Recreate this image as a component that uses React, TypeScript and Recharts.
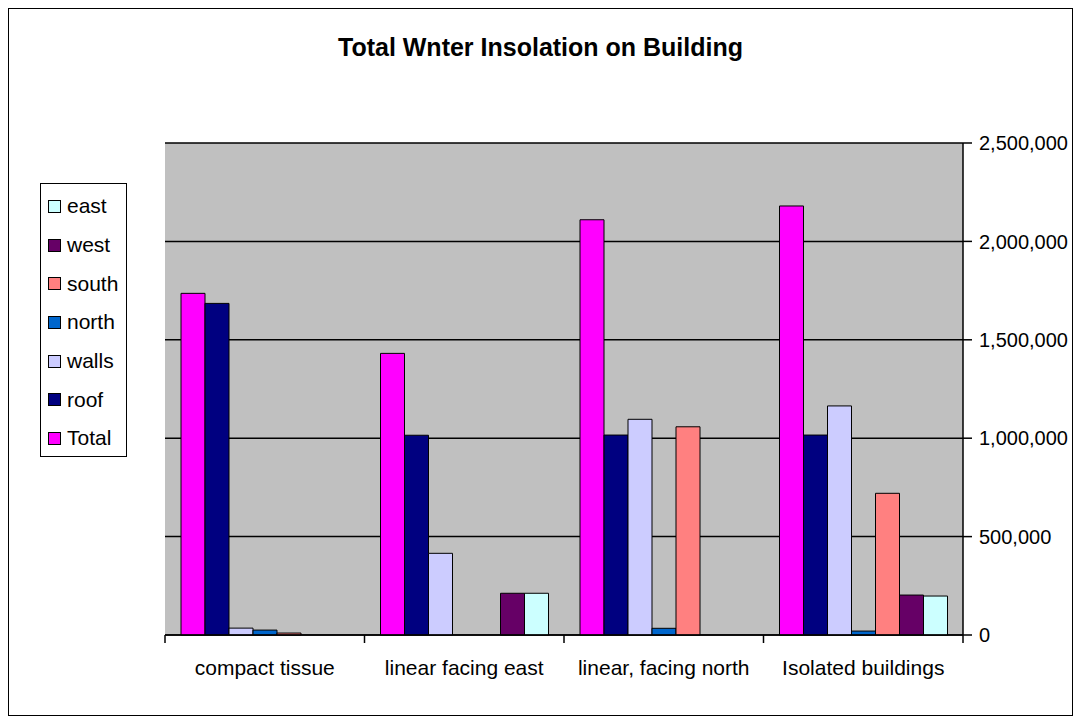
import { Bar, BarChart, CartesianGrid, XAxis, YAxis } from "recharts";

const categories = [
  "compact tissue",
  "linear facing east",
  "linear, facing north",
  "Isolated buildings",
];
const totalValues = [1736000, 1431000, 2110000, 2180000];
const roofValues = [1685000, 1015000, 1016000, 1016000];
const wallsValues = [35000, 415000, 1096000, 1164000];
const northValues = [25000, 0, 34000, 20000];
const southValues = [10000, 0, 1058000, 720000];
const westValues = [0, 212000, 0, 203000];
const eastValues = [0, 212000, 0, 198000];
const yTicks = [0, 500000, 1000000, 1500000, 2000000, 2500000];

const series = [
  { key: "Total", values: totalValues, color: "#FF00FF" },
  { key: "roof", values: roofValues, color: "#000080" },
  { key: "walls", values: wallsValues, color: "#CCCCFF" },
  { key: "north", values: northValues, color: "#0066CC" },
  { key: "south", values: southValues, color: "#FF8080" },
  { key: "west", values: westValues, color: "#660066" },
  { key: "east", values: eastValues, color: "#CCFFFF" },
];

const data = categories.map((name, i) => {
  const row: { [k: string]: number | string } = { name };
  series.forEach((s) => (row[s.key] = s.values[i]));
  return row;
});

const FONT = '"Liberation Sans", Arial, sans-serif';

const CategoryTick = (props: any) => {
  const { x, y, payload, index } = props;
  const off = payload.offset ?? 0;
  return (
    <g>
      <line x1={x - off} y1={y} x2={x - off} y2={y + 8} stroke="#000" strokeWidth={1.5} />
      {index === categories.length - 1 && (
        <line x1={x + off} y1={y} x2={x + off} y2={y + 8} stroke="#000" strokeWidth={1.5} />
      )}
      <text x={x} y={y + 40} textAnchor="middle" fill="#000" fontSize={21} fontFamily={FONT}>
        {payload.value}
      </text>
    </g>
  );
};

// legend lists the series in reverse order, like the original spreadsheet chart
const LegendBox = () => (
  <div
    style={{
      position: "absolute",
      left: 32,
      top: 175,
      width: 87,
      height: 274,
      border: "1px solid #000",
      background: "#fff",
      paddingTop: 3,
      boxSizing: "border-box",
      fontFamily: FONT,
      fontSize: 21,
    }}
  >
    {[...series].reverse().map((s) => (
      <div key={s.key} style={{ display: "flex", alignItems: "center", height: 38.7, paddingLeft: 7 }}>
        <span
          style={{
            width: 11,
            height: 11,
            background: s.color,
            border: "1px solid #000",
            marginRight: 6,
            display: "inline-block",
          }}
        />
        <span style={{ color: "#000" }}>{s.key}</span>
      </div>
    ))}
  </div>
);

export default function App() {
  return (
    <div style={{ position: "relative", width: 1065, height: 708, background: "#fff" }}>
      <div
        style={{
          position: "absolute",
          left: 0,
          top: 24,
          width: 1065,
          textAlign: "center",
          fontFamily: FONT,
          fontWeight: "bold",
          fontSize: 25,
          lineHeight: "30px",
          color: "#000",
        }}
      >
        Total Wnter Insolation on Building
      </div>
      <BarChart
        width={1065}
        height={708}
        data={data}
        margin={{ top: 135, right: 10, bottom: 21, left: 157 }}
        barCategoryGap={16}
        barGap={0}
      >
        <CartesianGrid vertical={false} stroke="#000" strokeWidth={1.5} fill="#C0C0C0" fillOpacity={1} />
        <XAxis
          dataKey="name"
          height={60}
          tickLine={false}
          tickSize={0}
          tickMargin={0}
          axisLine={{ stroke: "#000", strokeWidth: 1.5 }}
          tick={<CategoryTick />}
          interval={0}
        />
        <XAxis
          xAxisId="top"
          dataKey="name"
          orientation="top"
          height={0}
          tick={false}
          tickLine={false}
          axisLine={{ stroke: "#808080", strokeWidth: 2 }}
        />
        <YAxis
          yAxisId="left"
          orientation="left"
          width={0}
          tick={false}
          tickLine={false}
          axisLine={{ stroke: "#808080", strokeWidth: 2 }}
        />
        <YAxis
          orientation="right"
          width={100}
          domain={[0, 2500000]}
          ticks={yTicks}
          interval={0}
          tickSize={9}
          tickMargin={7}
          tickFormatter={(v: number) => v.toLocaleString("en-US")}
          tick={{ fill: "#000", fontSize: 20, fontFamily: FONT }}
          tickLine={{ stroke: "#000", strokeWidth: 1.5 }}
          axisLine={{ stroke: "#000", strokeWidth: 1.5 }}
        />
        {series.map((s) => (
          <Bar
            key={s.key}
            dataKey={s.key}
            fill={s.color}
            stroke="#000"
            strokeWidth={1}
            isAnimationActive={false}
          />
        ))}
      </BarChart>
      <LegendBox />
      <div
        style={{
          position: "absolute",
          inset: 0,
          border: "1px solid #000",
          pointerEvents: "none",
        }}
      />
    </div>
  );
}
